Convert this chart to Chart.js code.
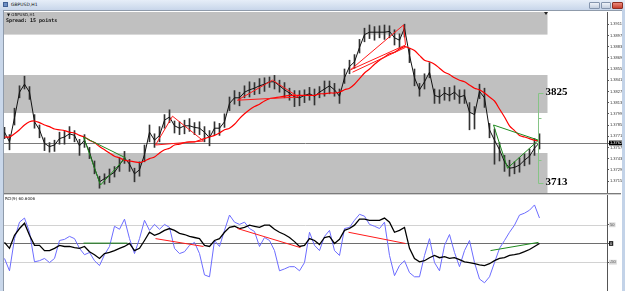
<!DOCTYPE html>
<html>
<head>
<meta charset="utf-8">
<script src="https://cdn.jsdelivr.net/npm/chart.js@4.4.0/dist/chart.umd.min.js"></script>
<style>
body { margin:0; width:625px; height:291px; overflow:hidden; position:relative; background:#c9d7ea; font-family:"DejaVu Sans", sans-serif; }
#title { position:absolute; left:0; top:0; width:625px; height:10px; background:linear-gradient(#e6eef8, #c8d6ea); }
#title .ttl { position:absolute; left:11px; top:2px; font-size:4.5px; color:#111; }
#title .ico { position:absolute; left:3px; top:2px; width:5px; height:5px; background:#6d8fc4; border:1px solid #3f5f94; box-sizing:border-box; }
.btn { position:absolute; top:2px; height:7px; border:1px solid #8595ad; box-sizing:border-box; background:linear-gradient(#eef2f8, #c4cfdf); border-radius:1px; }
#frame { position:absolute; left:3px; top:10px; width:619px; height:281px; background:#fff; border-left:1px solid #8f9bab; border-top:1px solid #8f9bab; box-sizing:border-box; }
#rightStrip { position:absolute; left:622px; top:10px; width:3px; height:281px; background:#c3d3e8; }
canvas { position:absolute; left:4px; }
#main { top:12px; }
#sep { position:absolute; left:4px; top:193px; width:617px; height:2px; background:#7b7b7b; border-bottom:1px solid #d0d0d0; box-sizing:border-box; }
#sub { top:195px; }
.lbl { position:absolute; font-size:4.5px; color:#111; white-space:nowrap; }
.spread { left:6px; top:17px; font-family:"DejaVu Sans Mono", monospace; font-weight:bold; font-size:5px; }
#shift { position:absolute; left:544px; top:12px; width:0; height:0; border-left:2px solid transparent; border-right:2px solid transparent; border-top:3px solid #222; }
</style>
</head>
<body>
<div id="title">
  <span class="ico"></span><span class="ttl">GBPUSD,H1</span>
  <span class="btn" style="left:589px;width:11px"></span>
  <span class="btn" style="left:601px;width:10px"></span>
  <span class="btn" style="left:612px;width:11px;background:linear-gradient(#e98a7c,#c8402f);border-color:#8e2e22"></span>
</div>
<div id="frame"></div>
<canvas id="main" width="621" height="181"></canvas>
<div id="sep"></div>
<canvas id="sub" width="621" height="96"></canvas>
<div id="rightStrip"></div>
<div id="shift"></div>
<div class="lbl" style="left:7px;top:12px;font-size:4px">▼ GBPUSD,H1</div>
<div class="lbl spread">Spread: 15 points</div>
<div class="lbl" style="left:5px;top:196px;font-size:4px">RCI(9) 60.6006</div>

<script>
// hourly closes, one per bar
const closes = [
    1.3776, 1.3764, 1.3794, 1.3826, 1.3836, 1.3826, 1.3789, 1.3779, 1.3762, 1.3758,
    1.3760, 1.3768, 1.3770, 1.3774, 1.3772, 1.3759, 1.3766, 1.3751, 1.3731, 1.3714,
    1.3718, 1.3722, 1.3726, 1.3735, 1.3744, 1.3736, 1.3724, 1.3729, 1.3748, 1.3776,
    1.3766, 1.3772, 1.3791, 1.3795, 1.3784, 1.3781, 1.3784, 1.3784, 1.3782, 1.3781,
    1.3776, 1.3769, 1.3781, 1.3781, 1.3789, 1.3812, 1.3819, 1.3819, 1.3826, 1.3829,
    1.3831, 1.3834, 1.3836, 1.3839, 1.3839, 1.3834, 1.3829, 1.3825, 1.3820, 1.3819,
    1.3822, 1.3824, 1.3821, 1.3826, 1.3830, 1.3834, 1.3829, 1.3821, 1.3844, 1.3858,
    1.3864, 1.3882, 1.3898, 1.3901, 1.3901, 1.3901, 1.3901, 1.3902, 1.3894, 1.3891,
    1.3906, 1.3872, 1.3844, 1.3829, 1.3839, 1.3851, 1.3822, 1.3820, 1.3825, 1.3822,
    1.3826, 1.3820, 1.3822, 1.3801, 1.3798, 1.3827, 1.3819, 1.3779, 1.3766, 1.3754,
    1.3739, 1.3731, 1.3732, 1.3735, 1.3741, 1.3746, 1.3756, 1.3763
]
// wick lengths above / below the close, in pips
const wickUp = [
    6, 9, 12, 8, 10, 7, 9, 6, 7, 5,
    6, 8, 7, 9, 6, 8, 7, 6, 9, 7,
    6, 8, 7, 9, 8, 6, 7, 10, 12, 9,
    8, 11, 7, 9, 6, 8, 7, 9, 6, 8,
    7, 9, 8, 6, 10, 8, 9, 7, 8, 10,
    7, 9, 8, 6, 8, 7, 9, 6, 8, 9,
    7, 8, 9, 7, 10, 6, 8, 9, 11, 8,
    9, 10, 8, 9, 7, 8, 9, 7, 10, 8,
    5, 9, 11, 8, 10, 12, 8, 9, 7, 10,
    8, 9, 7, 12, 10, 9, 12, 8, 14, 9,
    8, 10, 7, 9, 8, 9, 12, 11
]
const wickDown = [
    8, 10, 9, 7, 6, 9, 8, 10, 9, 7,
    8, 7, 9, 6, 8, 12, 9, 8, 7, 8,
    7, 9, 6, 8, 7, 9, 10, 8, 9, 12,
    9, 8, 10, 7, 9, 8, 10, 7, 9, 8,
    12, 10, 8, 9, 7, 9, 8, 10, 7, 9,
    8, 10, 9, 7, 9, 8, 10, 9, 12, 10,
    9, 8, 11, 7, 9, 10, 8, 9, 7, 9,
    8, 7, 9, 8, 10, 7, 9, 8, 9, 10,
    11, 9, 10, 8, 9, 7, 10, 8, 9, 7,
    9, 8, 10, 22, 18, 9, 12, 10, 30, 14,
    12, 10, 8, 9, 7, 10, 9, 8
]
// red moving average
const movingAvg = [
    1.3770, 1.3770, 1.3774, 1.3779, 1.3785, 1.3789, 1.3790, 1.3788, 1.3785, 1.3783,
    1.3780, 1.3779, 1.3778, 1.3776, 1.3775, 1.3772, 1.3770, 1.3766, 1.3763, 1.3758,
    1.3754, 1.3750, 1.3746, 1.3744, 1.3741, 1.3740, 1.3739, 1.3738, 1.3740, 1.3743,
    1.3745, 1.3750, 1.3754, 1.3756, 1.3760, 1.3761, 1.3763, 1.3764, 1.3764, 1.3766,
    1.3768, 1.3770, 1.3772, 1.3775, 1.3779, 1.3781, 1.3786, 1.3793, 1.3799, 1.3804,
    1.3808, 1.3811, 1.3815, 1.3818, 1.3819, 1.3820, 1.3821, 1.3822, 1.3822, 1.3822,
    1.3822, 1.3822, 1.3822, 1.3824, 1.3824, 1.3825, 1.3825, 1.3826, 1.3829, 1.3831,
    1.3836, 1.3843, 1.3850, 1.3855, 1.3861, 1.3866, 1.3870, 1.3874, 1.3876, 1.3880,
    1.3883, 1.3881, 1.3878, 1.3872, 1.3866, 1.3864, 1.3861, 1.3856, 1.3851, 1.3848,
    1.3844, 1.3841, 1.3839, 1.3835, 1.3831, 1.3829, 1.3825, 1.3820, 1.3815, 1.3805,
    1.3795, 1.3784, 1.3778, 1.3772, 1.3770, 1.3768, 1.3766, 1.3765
]
// RCI lines in the lower window
const rciBlack = [
    3, -13, 22, 40, 54, 22, -5, -5, -19, -19,
    -13, -5, -8, -8, -11, -13, -8, -22, -30, -40,
    -27, -24, -19, -13, -8, 0, -19, -13, 8, 30,
    22, 27, 35, 40, 35, 27, 24, 19, 16, 13,
    -5, -8, 8, 13, 30, 43, 46, 40, 43, 49,
    46, 43, 49, 49, 38, 30, 24, 16, 5, -8,
    -5, 13, 8, -3, 16, 19, 0, 11, 35, 40,
    49, 65, 65, 62, 62, 62, 68, 57, 30, 35,
    43, -13, -40, -49, -46, -38, -32, -38, -35, -40,
    -38, -43, -49, -51, -54, -57, -59, -54, -46, -40,
    -38, -32, -30, -27, -22, -16, -8, 0
]
const rciBlue = [
    -40, -73, 13, 57, 68, 30, -49, -46, -40, -51,
    -40, 8, 11, 19, 13, -13, -30, -24, -46, -59,
    -30, -8, 46, 38, 65, 13, -27, 13, 62, 35,
    51, 38, 51, 43, -13, -27, -22, -5, 3, -27,
    -84, -89, 8, -8, 35, 76, 57, 51, 57, 40,
    32, -8, 16, 8, -19, -73, -68, -62, -62, -73,
    -51, 30, -5, -19, 19, 35, -19, -32, 40, 43,
    62, 78, 73, 51, 46, 40, 57, -32, -86, -59,
    -46, -78, -89, -89, -32, 13, -51, -73, -5, 24,
    -24, -62, -19, 8, -51, -95, -105, -89, -51, -13,
    8, 30, 49, 76, 81, 89, 103, 68
]

const priceTicks = [1.3911, 1.3897, 1.3883, 1.3869, 1.3855, 1.3841, 1.3827, 1.3813, 1.3799, 1.3785, 1.3771, 1.3757, 1.3743, 1.3729, 1.3715]
const lastPrice = 1.37625
const rciLevels = [50, 0, -50]

// support / resistance zones [low, high], drawn up to zoneEnd (bar index)
const zones = [[1.3898, 1.3935], [1.3800, 1.38475], [1.3690, 1.3750]]
const zoneEnd = 108.6
// measuring tool: prices and bar index
const measure = [1.3825, 1.3713]
const measureAt = 106.6

// trend lines, each [bar1, value1, bar2, value2]
const redLinesMain = [
    [30.2, 1.3760, 33.6, 1.3796], [33.6, 1.3796, 39.8, 1.3765], [30.2, 1.3760, 39.8, 1.3765],
    [46.6, 1.3816, 53.6, 1.3841], [53.6, 1.3841, 58.8, 1.3820], [46.6, 1.3816, 58.8, 1.3820],
    [69.2, 1.3854, 79.8, 1.3910], [79.8, 1.3910, 80.2, 1.3885], [69.2, 1.3854, 80.2, 1.3885], [69.6, 1.3851, 80.2, 1.3882]
]
const greenLinesMain = [
    [15.8, 1.3770, 19.2, 1.3710], [19.2, 1.3710, 24.2, 1.3744], [15.8, 1.3770, 24.2, 1.3744],
    [97.8, 1.3785, 100.6, 1.3731], [100.6, 1.3731, 106.8, 1.3766], [97.8, 1.3785, 106.8, 1.3766]
]
const redLinesSub = [[30.2, 13, 39.8, -8], [46.6, 40, 59.2, -11], [68.8, 30, 80.2, 0]]
const greenLinesSub = [[15.8, 1, 24.6, 1], [97.2, -19, 106.8, 3]]

Chart.defaults.font.family = '"Liberation Sans", Arial, sans-serif'

const segs = (list, color) => list.map(s => ({
    type: 'line',
    data: [{x: s[0], y: s[1]}, {x: s[2], y: s[3]}],
    borderColor: color,
    borderWidth: 1,
    pointRadius: 0
}))

const axisY = (min, max, ticks, fmt, box) => ({
    position: 'right',
    min: min,
    max: max,
    afterFit(s) { s.width = 18; s.paddingTop = 0; s.paddingBottom = 0 },
    afterBuildTicks(s) { s.ticks = ticks.map(v => ({value: v})) },
    grid: {drawOnChartArea: false, tickLength: 2, color: '#555'},
    border: {color: '#555'},
    ticks: {
        autoSkip: false,
        padding: 1,
        font: {size: 4},
        color: c => box(c).fg,
        showLabelBackdrop: true,
        backdropColor: c => box(c).bg,
        backdropPadding: {top: 0, bottom: 0, left: 1, right: 1},
        callback: fmt
    }
})

// min shifted by 0.1 bar so 1px wicks land on whole pixels
const axisX = {type: 'linear', min: -0.1, max: 120.5, display: false, offset: false, grid: {offset: false}}

const mainDecor = {
    id: 'mainDecor',
    beforeDatasetsDraw(chart) {
        const {ctx, chartArea: a, scales: {x, y}} = chart
        ctx.save()
        ctx.fillStyle = '#c0c0c0'
        const right = x.getPixelForValue(zoneEnd)
        zones.forEach(z => {
            const top = Math.max(y.getPixelForValue(z[1]), a.top)
            const bot = Math.min(y.getPixelForValue(z[0]), a.bottom)
            ctx.fillRect(a.left, top, right - a.left, bot - top)
        })
        const py = Math.round(y.getPixelForValue(lastPrice)) + 0.5
        ctx.strokeStyle = '#7a7a7a'
        ctx.lineWidth = 1
        ctx.beginPath(); ctx.moveTo(a.left, py); ctx.lineTo(a.right, py); ctx.stroke()
        ctx.restore()
    },
    afterDatasetsDraw(chart) {
        const {ctx, scales: {x, y}} = chart
        const mx = Math.round(x.getPixelForValue(measureAt)) + 0.5
        const y1 = Math.round(y.getPixelForValue(measure[0])) + 0.5
        const y2 = Math.round(y.getPixelForValue(measure[1])) + 0.5
        ctx.save()
        ctx.strokeStyle = '#86c486'
        ctx.lineWidth = 1
        ctx.beginPath()
        ctx.moveTo(mx, y1); ctx.lineTo(mx, y2)
        ctx.moveTo(mx, y1); ctx.lineTo(mx + 5, y1)
        ctx.moveTo(mx, y2); ctx.lineTo(mx + 5, y2)
        const q1 = Math.round(y1 + (y2 - y1) * 0.27) + 0.5, q3 = Math.round(y1 + (y2 - y1) * 0.74) + 0.5
        ctx.moveTo(mx, q1); ctx.lineTo(mx + 3, q1)
        ctx.moveTo(mx, q3); ctx.lineTo(mx + 3, q3)
        ctx.stroke()
        ctx.fillStyle = '#000'
        ctx.font = 'bold 11px "Liberation Serif", serif'
        ctx.textBaseline = 'middle'
        measure.forEach((v, i) => {
            ctx.fillText(String(Math.round(v * 10000)).slice(-4), mx + 7, i ? y2 - 1 : y1 - 1)
        })
        ctx.restore()
    }
}

const subDecor = {
    id: 'subDecor',
    beforeDatasetsDraw(chart) {
        const {ctx, chartArea: a, scales: {y}} = chart
        ctx.save()
        ctx.lineWidth = 1
        rciLevels.forEach(v => {
            const py = Math.round(y.getPixelForValue(v)) + 0.5
            ctx.strokeStyle = v === 0 ? '#6e6e6e' : '#d2d2d2'
            ctx.beginPath(); ctx.moveTo(a.left, py); ctx.lineTo(a.right, py); ctx.stroke()
        })
        ctx.restore()
    }
}

new Chart(document.getElementById('main'), {
    type: 'line',
    data: {
        datasets: [
            ...segs(redLinesMain, '#ff1a1a'),
            ...segs(greenLinesMain, '#1f8a1f'),
            {
                type: 'line',
                data: movingAvg.map((v, i) => ({x: i, y: v})),
                borderColor: '#ff0000',
                borderWidth: 1.2,
                pointRadius: 0,
                tension: 0.3
            },
            {
                type: 'line',
                data: closes.map((v, i) => ({x: i, y: v})),
                borderColor: '#111',
                borderWidth: 1,
                pointRadius: 0
            },
            {
                type: 'bar',
                data: closes.map((v, i) => ({x: i, y: [v - wickDown[i] / 10000, v + wickUp[i] / 10000]})),
                backgroundColor: '#333',
                barThickness: 1
            }
        ]
    },
    options: {
        responsive: false,
        animation: false,
        layout: {padding: 0, autoPadding: false},
        plugins: {legend: {display: false}, tooltip: {enabled: false}},
        scales: {
            x: axisX,
            y: axisY(1.3700, 1.392625, priceTicks.concat([lastPrice]), v => v.toFixed(4),
                c => c.tick && c.tick.value === lastPrice ? {fg: '#fff', bg: '#000'} : {fg: '#333', bg: 'rgba(0,0,0,0)'})
        }
    },
    plugins: [mainDecor]
});

new Chart(document.getElementById('sub'), {
    type: 'line',
    data: {
        datasets: [
            ...segs(redLinesSub, '#ff1a1a'),
            ...segs(greenLinesSub, '#1f8a1f'),
            {
                data: rciBlack.map((v, i) => ({x: i, y: v})),
                borderColor: '#000',
                borderWidth: 1.3,
                pointRadius: 0
            },
            {
                data: rciBlue.map((v, i) => ({x: i, y: v})),
                borderColor: '#6c6cff',
                borderWidth: 1,
                pointRadius: 0
            }
        ]
    },
    options: {
        responsive: false,
        animation: false,
        layout: {padding: 0, autoPadding: false},
        plugins: {legend: {display: false}, tooltip: {enabled: false}},
        scales: {
            x: axisX,
            y: axisY(-127, 129.6, rciLevels, v => String(v),
                c => c.tick && c.tick.value === 0 ? {fg: '#fff', bg: '#222'} : {fg: '#555', bg: '#d8d8d8'})
        }
    },
    plugins: [subDecor]
});
</script>
</body>
</html>
